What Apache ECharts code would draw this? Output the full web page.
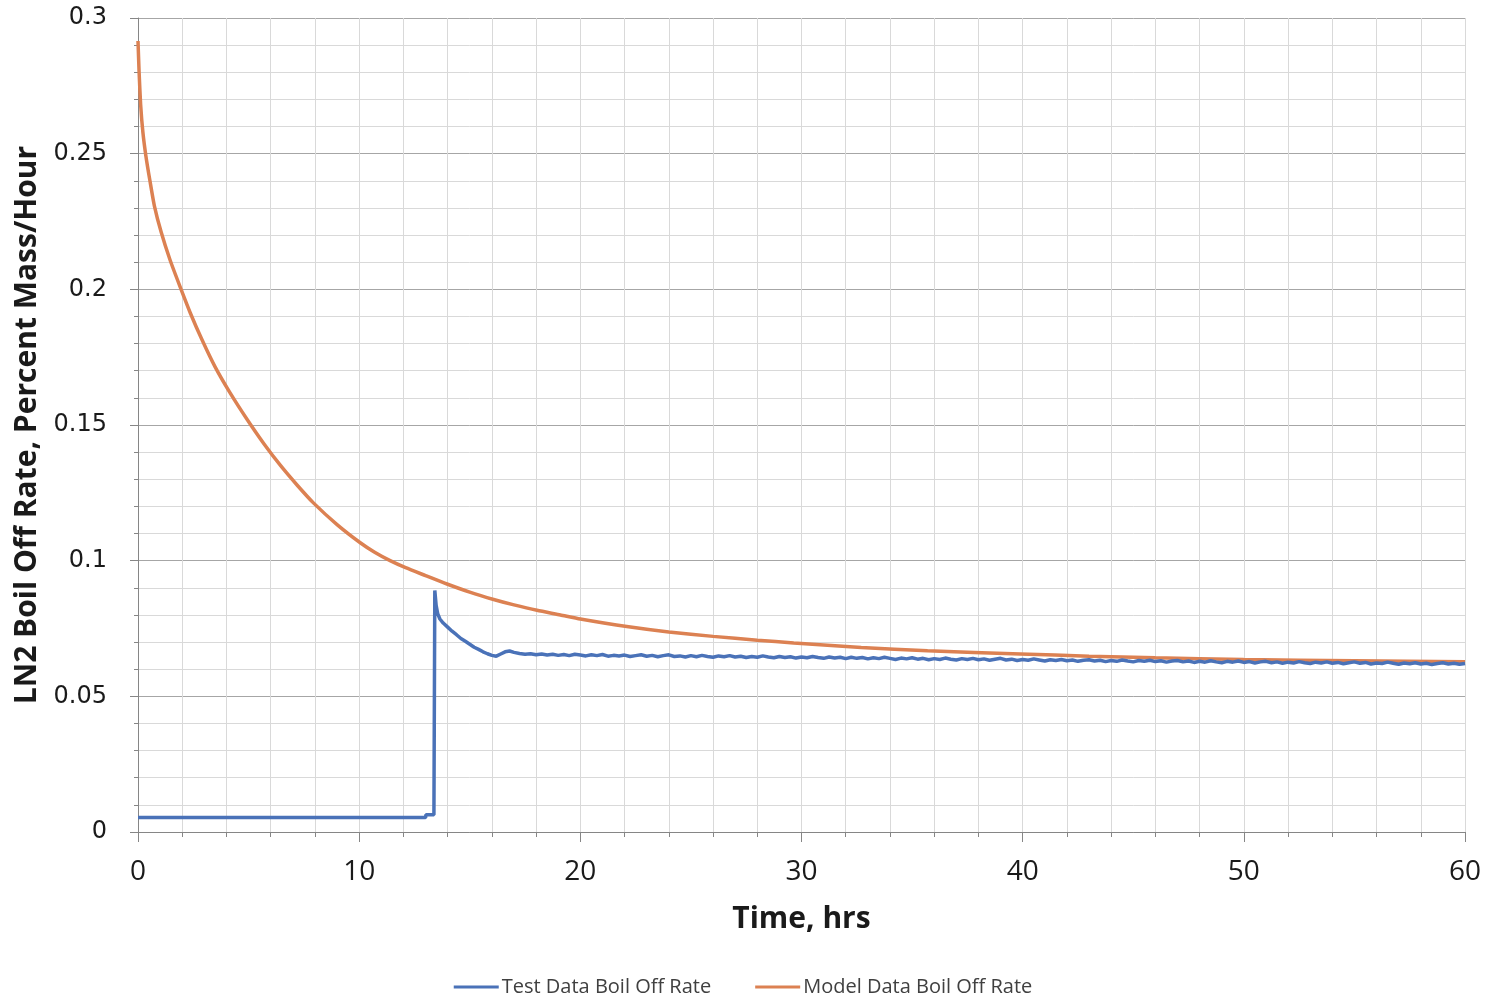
<!DOCTYPE html>
<html><head><meta charset="utf-8">
<script src="https://cdn.jsdelivr.net/npm/echarts@6/dist/echarts.min.js"></script>
<style>html,body{margin:0;padding:0;background:#fff}#c{width:1486px;height:1000px}</style>
</head><body><div id="c"></div>
<script>
// Model Data Boil Off Rate: [time (hrs), rate (% mass/hr)]
const modelData = [
  [0,0.2915],[0.05,0.280],[0.12,0.268],[0.22,0.258],[0.36,0.249],[0.54,0.240],[0.74,0.2308],
  [1.05,0.2210],[1.45,0.2108],[1.9,0.2010],[2.37,0.1912],[2.9,0.1813],[3.48,0.1715],[4.15,0.1620],
  [4.92,0.1522],[5.7,0.1430],[6.45,0.1350],[7.2,0.1278],[7.93,0.1213],[9.0,0.1133],[10.05,0.1066],
  [10.7,0.1031],[11.4,0.1000],[12.1,0.0974],[13.0,0.0945],[13.97,0.0914],[15.0,0.0884],
  [16.08,0.0857],[17.0,0.0837],[18.04,0.0817],[19.1,0.0800],[20.0,0.0785],[22.1,0.0757],
  [24,0.0737],[26,0.0721],[28,0.0707],[29.65,0.0697],[32.7,0.0680],[35.7,0.0668],[39.9,0.0656],
  [43,0.0648],[46,0.0642],[50,0.0636],[55,0.0631],[60,0.0627]
];
// Test Data Boil Off Rate, start-up part: [time, rate]
const testStart = [
  [0,0.0053],[13.0,0.0053],[13.02,0.0064],[13.38,0.0064],[13.42,0.0890],[13.48,0.0835],
  [13.55,0.0805],[13.65,0.0785],[13.8,0.0770],[14.0,0.0755],[14.2,0.0740],[14.4,0.0727],
  [14.6,0.0713],[14.8,0.0703],[15.0,0.0692],[15.2,0.0681],[15.4,0.0673],[15.6,0.0664],
  [15.8,0.0657],[16.0,0.0651],[16.2,0.0648],[16.4,0.0656],[16.6,0.0664],[16.8,0.0667]
];
// Test Data steady part: readings every 0.25 hr starting at 17 hrs
const testSteadyStart = 17;
const testSteadyStep = 0.25;
const testSteady = [
  0.0662,0.0658,0.0655,0.0657, 0.0653,0.0656,0.0652,0.0655, 0.0651,0.0654,0.0650,0.0655,
  0.0652,0.0649,0.0653,0.0650, 0.0654,0.0648,0.0651,0.0649, 0.0652,0.0647,0.0650,0.0653,
  0.0648,0.0651,0.0646,0.0650, 0.0653,0.0647,0.0649,0.0645, 0.0650,0.0646,0.0651,0.0647,
  0.0644,0.0649,0.0646,0.0650, 0.0645,0.0648,0.0643,0.0647, 0.0644,0.0649,0.0645,0.0642,
  0.0647,0.0643,0.0646,0.0641, 0.0645,0.0642,0.0647,0.0643, 0.0640,0.0645,0.0641,0.0644,
  0.0639,0.0644,0.0640,0.0643, 0.0638,0.0642,0.0639,0.0644, 0.0640,0.0636,0.0641,0.0638,
  0.0642,0.0637,0.0640,0.0635, 0.0639,0.0636,0.0641,0.0637, 0.0634,0.0639,0.0636,0.0640,
  0.0635,0.0638,0.0633,0.0637, 0.0640,0.0634,0.0637,0.0632, 0.0636,0.0633,0.0638,0.0634,
  0.0630,0.0635,0.0632,0.0636, 0.0631,0.0634,0.0629,0.0633, 0.0635,0.0630,0.0633,0.0628,
  0.0632,0.0629,0.0634,0.0630, 0.0627,0.0632,0.0629,0.0633, 0.0628,0.0631,0.0626,0.0630,
  0.0632,0.0627,0.0630,0.0625, 0.0629,0.0626,0.0631,0.0627, 0.0624,0.0629,0.0626,0.0630,
  0.0625,0.0628,0.0623,0.0627, 0.0629,0.0624,0.0627,0.0622, 0.0626,0.0623,0.0628,0.0624,
  0.0621,0.0626,0.0623,0.0627, 0.0622,0.0625,0.0620,0.0624, 0.0627,0.0622,0.0625,0.0619,
  0.0623,0.0621,0.0626,0.0622, 0.0618,0.0623,0.0620,0.0624, 0.0619,0.0622,0.0617,0.0621,
  0.0624,0.0619,0.0622,0.0618, 0.0621
];
const seriesNames = ['Test Data Boil Off Rate', 'Model Data Boil Off Rate'];
const xTicks = [0,10,20,30,40,50,60];
const yTicks = [0,0.05,0.1,0.15,0.2,0.25,0.3];

const testData = testStart.concat(testSteady.map((v,i)=>[testSteadyStart + i*testSteadyStep, v]));

const chart = echarts.init(document.getElementById('c'), null, {renderer:'canvas'});
const lightGrid = '#d9d9d9', darkGrid = '#a6a6a6', axisCol = '#868686';
const sans = '"Open Sans",sans-serif';
chart.setOption({
  animation:false,
  backgroundColor:'#fff',
  grid:{left:138,right:21,top:18,bottom:168,containLabel:false,outerBoundsMode:'none'},
  legend:{
    bottom:-2,left:'center',
    data:seriesNames,
    icon:'rect',itemWidth:45,itemHeight:3,itemGap:44,
    textStyle:{fontFamily:sans,fontSize:20,color:'#404040',padding:[0,0,0,-2]}
  },
  xAxis:{
    type:'value',min:xTicks[0],max:xTicks[xTicks.length-1],interval:10,
    name:'Time, hrs',nameLocation:'middle',nameGap:72,
    nameTextStyle:{fontFamily:sans,fontSize:30,fontWeight:'bold',color:'#1a1a1a'},
    axisLine:{show:true,lineStyle:{color:axisCol,width:1}},
    axisTick:{show:true,length:10,lineStyle:{color:axisCol}},
    minorTick:{show:true,splitNumber:5,length:5,lineStyle:{color:axisCol}},
    axisLabel:{margin:26,fontFamily:sans,fontSize:28,color:'#1a1a1a'},
    splitLine:{show:true,lineStyle:{color:lightGrid,width:1}},
    minorSplitLine:{show:true,lineStyle:{color:lightGrid,width:1}}
  },
  yAxis:{
    type:'value',min:yTicks[0],max:yTicks[yTicks.length-1],interval:0.05,
    name:'LN2 Boil Off Rate, Percent Mass/Hour',nameLocation:'middle',nameGap:94,nameRotate:90,
    nameTextStyle:{fontFamily:sans,fontSize:30,fontWeight:'bold',color:'#1a1a1a'},
    axisLine:{show:true,lineStyle:{color:axisCol,width:1}},
    axisTick:{show:true,length:8,lineStyle:{color:axisCol}},
    minorTick:{show:true,splitNumber:5,length:4,lineStyle:{color:axisCol}},
    axisLabel:{margin:31,fontFamily:'"DejaVu Sans",sans-serif',fontSize:24,color:'#1a1a1a',
      formatter:v=>String(Math.round(v*100)/100)},
    splitLine:{show:true,lineStyle:{color:darkGrid,width:1}},
    minorSplitLine:{show:true,lineStyle:{color:lightGrid,width:1}}
  },
  series:[
    {name:seriesNames[0],type:'line',data:testData,showSymbol:false,symbol:'none',
      lineStyle:{color:'#4a72b8',width:3.5},itemStyle:{color:'#4a72b8'},z:3},
    {name:seriesNames[1],type:'line',data:modelData,showSymbol:false,symbol:'none',smooth:0.2,
      lineStyle:{color:'#dc8152',width:3.5},itemStyle:{color:'#dc8152'},z:2}
  ]
});
</script></body></html>
